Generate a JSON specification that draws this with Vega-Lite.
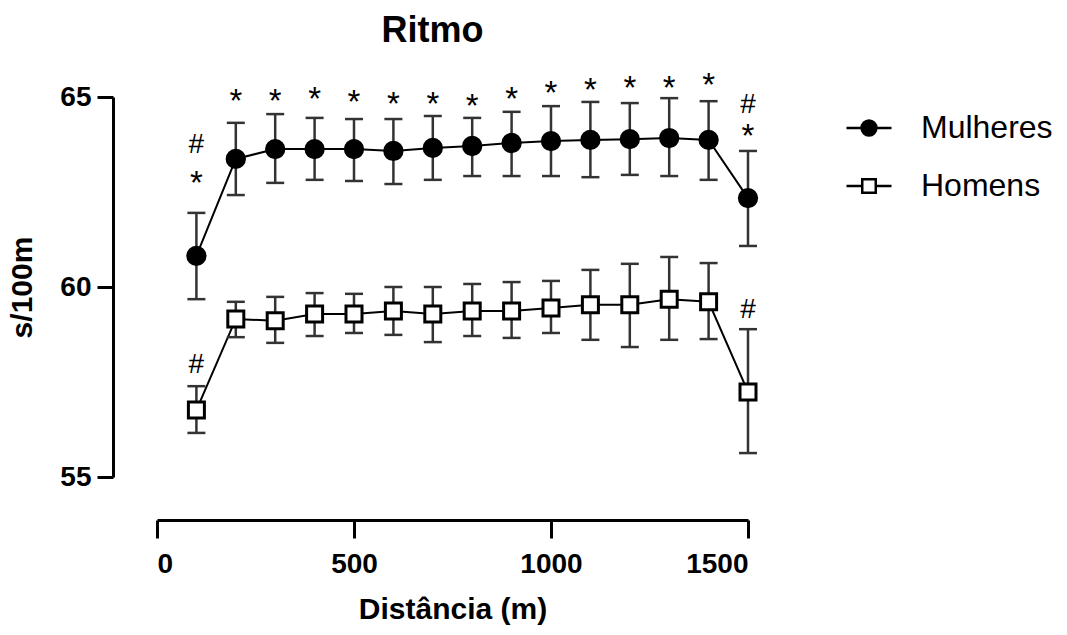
{
  "$schema": "https://vega.github.io/schema/vega-lite/v6.json",
  "autosize": "none",
  "width": 591,
  "height": 380,
  "padding": {"left": 157, "top": 97, "right": 319, "bottom": 158},
  "background": "white",
  "title": {"text": "Ritmo", "font": "Liberation Sans", "fontSize": 36, "fontWeight": "bold", "color": "black", "anchor": "middle", "dx": -20, "offset": 20},
  "config": {
    "view": {"stroke": null},
    "axis": {"grid": false, "domainColor": "black", "domainWidth": 3, "tickColor": "black", "tickWidth": 3, "labelFont": "Liberation Sans", "labelFontWeight": "bold", "labelFontSize": 28, "labelColor": "black", "titleFont": "Liberation Sans", "titleFontWeight": "bold", "titleFontSize": 30, "titleColor": "black"},
    "legend": {"orient": "none", "legendX": 688, "legendY": 7, "padding": 0, "labelFont": "Liberation Sans", "labelFontSize": 32, "labelColor": "black", "labelOffset": 28, "symbolSize": 2025, "rowPadding": 18, "symbolOpacity": 1, "symbolStrokeWidth": 2.5}
  },
  "datasets": {
    "ritmo": [
      {"dist": 100, "serie": "Mulheres", "media": 60.82, "inf": 59.68, "sup": 61.95},
      {"dist": 200, "serie": "Mulheres", "media": 63.37, "inf": 62.42, "sup": 64.32},
      {"dist": 300, "serie": "Mulheres", "media": 63.63, "inf": 62.74, "sup": 64.55},
      {"dist": 400, "serie": "Mulheres", "media": 63.63, "inf": 62.82, "sup": 64.45},
      {"dist": 500, "serie": "Mulheres", "media": 63.63, "inf": 62.79, "sup": 64.42},
      {"dist": 600, "serie": "Mulheres", "media": 63.58, "inf": 62.71, "sup": 64.42},
      {"dist": 700, "serie": "Mulheres", "media": 63.66, "inf": 62.82, "sup": 64.5},
      {"dist": 800, "serie": "Mulheres", "media": 63.71, "inf": 62.92, "sup": 64.45},
      {"dist": 900, "serie": "Mulheres", "media": 63.79, "inf": 62.92, "sup": 64.61},
      {"dist": 1000, "serie": "Mulheres", "media": 63.84, "inf": 62.92, "sup": 64.76},
      {"dist": 1100, "serie": "Mulheres", "media": 63.87, "inf": 62.89, "sup": 64.87},
      {"dist": 1200, "serie": "Mulheres", "media": 63.89, "inf": 62.95, "sup": 64.84},
      {"dist": 1300, "serie": "Mulheres", "media": 63.92, "inf": 62.92, "sup": 64.97},
      {"dist": 1400, "serie": "Mulheres", "media": 63.87, "inf": 62.82, "sup": 64.89},
      {"dist": 1500, "serie": "Mulheres", "media": 62.34, "inf": 61.08, "sup": 63.58},
      {"dist": 100, "serie": "Homens", "media": 56.76, "inf": 56.16, "sup": 57.39},
      {"dist": 200, "serie": "Homens", "media": 59.16, "inf": 58.68, "sup": 59.61},
      {"dist": 300, "serie": "Homens", "media": 59.11, "inf": 58.53, "sup": 59.74},
      {"dist": 400, "serie": "Homens", "media": 59.29, "inf": 58.71, "sup": 59.84},
      {"dist": 500, "serie": "Homens", "media": 59.29, "inf": 58.79, "sup": 59.82},
      {"dist": 600, "serie": "Homens", "media": 59.37, "inf": 58.74, "sup": 60.0},
      {"dist": 700, "serie": "Homens", "media": 59.29, "inf": 58.55, "sup": 60.0},
      {"dist": 800, "serie": "Homens", "media": 59.37, "inf": 58.71, "sup": 60.08},
      {"dist": 900, "serie": "Homens", "media": 59.37, "inf": 58.66, "sup": 60.13},
      {"dist": 1000, "serie": "Homens", "media": 59.45, "inf": 58.79, "sup": 60.16},
      {"dist": 1100, "serie": "Homens", "media": 59.53, "inf": 58.61, "sup": 60.45},
      {"dist": 1200, "serie": "Homens", "media": 59.53, "inf": 58.42, "sup": 60.61},
      {"dist": 1300, "serie": "Homens", "media": 59.68, "inf": 58.61, "sup": 60.79},
      {"dist": 1400, "serie": "Homens", "media": 59.61, "inf": 58.63, "sup": 60.63},
      {"dist": 1500, "serie": "Homens", "media": 57.24, "inf": 55.63, "sup": 58.89}
    ],
    "anot": [
      {"dist": 100, "rotulo": "#", "pos": 63.74},
      {"dist": 100, "rotulo": "*", "pos": 62.72},
      {"dist": 200, "rotulo": "*", "pos": 64.88},
      {"dist": 300, "rotulo": "*", "pos": 64.88},
      {"dist": 400, "rotulo": "*", "pos": 64.93},
      {"dist": 500, "rotulo": "*", "pos": 64.83},
      {"dist": 600, "rotulo": "*", "pos": 64.8},
      {"dist": 700, "rotulo": "*", "pos": 64.8},
      {"dist": 800, "rotulo": "*", "pos": 64.75},
      {"dist": 900, "rotulo": "*", "pos": 64.93},
      {"dist": 1000, "rotulo": "*", "pos": 65.09},
      {"dist": 1100, "rotulo": "*", "pos": 65.15},
      {"dist": 1200, "rotulo": "*", "pos": 65.22},
      {"dist": 1300, "rotulo": "*", "pos": 65.22},
      {"dist": 1400, "rotulo": "*", "pos": 65.28},
      {"dist": 1500, "rotulo": "#", "pos": 64.79},
      {"dist": 1500, "rotulo": "*", "pos": 63.96},
      {"dist": 100, "rotulo": "#", "pos": 57.95},
      {"dist": 1500, "rotulo": "#", "pos": 59.39}
    ]
  },
  "layer": [
    {
      "data": {"name": "ritmo"},
      "mark": {"type": "line", "color": "black", "strokeWidth": 2},
      "encoding": {
        "x": {"field": "dist", "type": "quantitative", "scale": {"domain": [0, 1500], "nice": false}, "axis": {"values": [0, 500, 1000, 1500], "format": "d", "offset": 43, "tickSize": 18, "labelPadding": 12, "title": "Distância (m)", "titlePadding": 16}},
        "y": {"field": "media", "type": "quantitative", "scale": {"domain": [55, 65], "nice": false, "zero": false}, "axis": {"values": [55, 60, 65], "offset": 44, "tickSize": 16, "labelPadding": 6, "title": "s/100m", "titlePadding": 22}},
        "detail": {"field": "serie"}
      }
    },
    {
      "data": {"name": "ritmo"},
      "mark": {"type": "rule", "color": "#333333", "strokeWidth": 2.5},
      "encoding": {
        "x": {"field": "dist", "type": "quantitative"},
        "y": {"field": "inf", "type": "quantitative"},
        "y2": {"field": "sup"}
      }
    },
    {
      "data": {"name": "ritmo"},
      "mark": {"type": "tick", "orient": "horizontal", "size": 18, "thickness": 2.5, "color": "#333333", "opacity": 1},
      "encoding": {
        "x": {"field": "dist", "type": "quantitative"},
        "y": {"field": "inf", "type": "quantitative"}
      }
    },
    {
      "data": {"name": "ritmo"},
      "mark": {"type": "tick", "orient": "horizontal", "size": 18, "thickness": 2.5, "color": "#333333", "opacity": 1},
      "encoding": {
        "x": {"field": "dist", "type": "quantitative"},
        "y": {"field": "sup", "type": "quantitative"}
      }
    },
    {
      "data": {"name": "ritmo"},
      "mark": {"type": "point", "filled": true, "stroke": "black", "strokeWidth": 3, "opacity": 1},
      "encoding": {
        "x": {"field": "dist", "type": "quantitative"},
        "y": {"field": "media", "type": "quantitative"},
        "shape": {"condition": {"test": "datum.serie === 'Mulheres'", "value": "circle"}, "value": "square"},
        "fill": {"condition": {"test": "datum.serie === 'Mulheres'", "value": "black"}, "value": "white"},
        "size": {"condition": {"test": "datum.serie === 'Mulheres'", "value": 300}, "value": 256}
      }
    },
    {
      "data": {"name": "ritmo"},
      "transform": [{"filter": "datum.dist === 100"}],
      "mark": {"type": "point", "filled": true, "strokeWidth": 2.5, "opacity": 0},
      "encoding": {
        "x": {"field": "dist", "type": "quantitative"},
        "y": {"field": "media", "type": "quantitative"},
        "shape": {"field": "serie", "type": "nominal", "scale": {"domain": ["Mulheres", "Homens"], "range": ["M-1,0H-0.33M0.33,0H1M-0.33,0A0.33,0.33,0,1,0,0.33,0A0.33,0.33,0,1,0,-0.33,0Z", "M-1,0H-0.3M0.3,0H1M-0.3,-0.3H0.3V0.3H-0.3Z"]}, "legend": {"title": null}},
        "fill": {"field": "serie", "type": "nominal", "scale": {"domain": ["Mulheres", "Homens"], "range": ["black", "white"]}, "legend": {"title": null}},
        "stroke": {"field": "serie", "type": "nominal", "scale": {"domain": ["Mulheres", "Homens"], "range": ["black", "black"]}, "legend": {"title": null}}
      }
    },
    {
      "data": {"name": "anot"},
      "mark": {"type": "text", "font": "Liberation Sans", "color": "black", "baseline": "middle", "align": "center"},
      "encoding": {
        "x": {"field": "dist", "type": "quantitative"},
        "y": {"field": "pos", "type": "quantitative"},
        "text": {"field": "rotulo"},
        "size": {"condition": {"test": "datum.rotulo === '*'", "value": 33}, "value": 28}
      }
    }
  ]
}
